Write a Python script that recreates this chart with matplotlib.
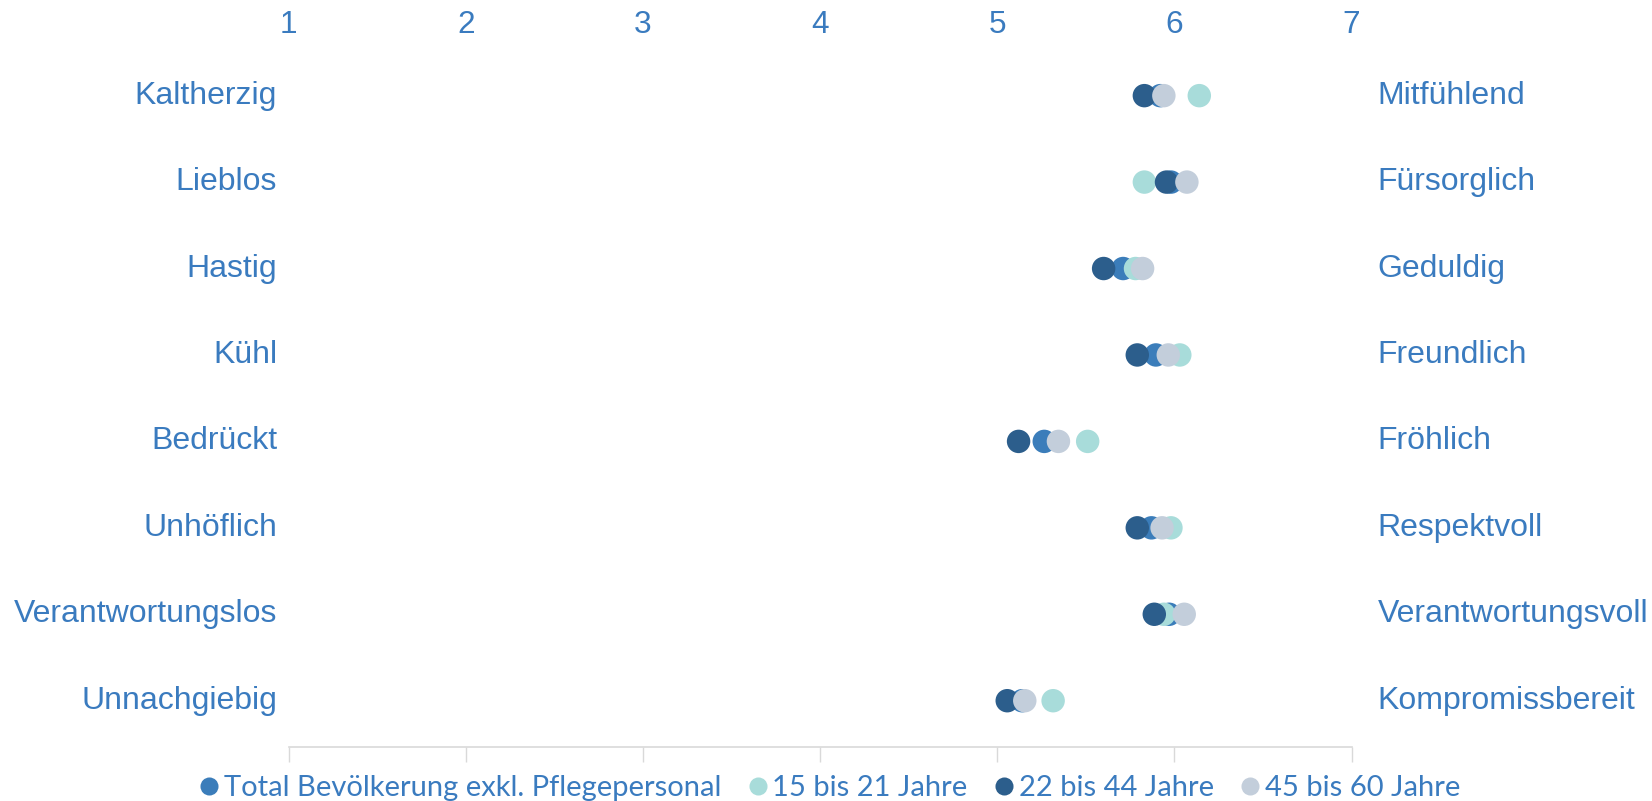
import numpy as np
import matplotlib.pyplot as plt
from matplotlib.lines import Line2D

plt.rcParams['font.family'] = ['Liberation Sans', 'DejaVu Sans']

left_labels = ['Kaltherzig', 'Lieblos', 'Hastig', 'Kühl', 'Bedrückt',
               'Unhöflich', 'Verantwortungslos', 'Unnachgiebig']
right_labels = ['Mitfühlend', 'Fürsorglich', 'Geduldig', 'Freundlich', 'Fröhlich',
                'Respektvoll', 'Verantwortungsvoll', 'Kompromissbereit']

series_names = ['Total Bevölkerung exkl. Pflegepersonal', '15 bis 21 Jahre',
                '22 bis 44 Jahre', '45 bis 60 Jahre']
total = [5.92, 5.98, 5.71, 5.895, 5.265, 5.87, 5.97, 5.14]
age_15_21 = [6.14, 5.83, 5.78, 6.03, 5.51, 5.98, 5.94, 5.315]
age_22_44 = [5.83, 5.955, 5.60, 5.79, 5.12, 5.79, 5.886, 5.056]
age_45_60 = [5.94, 6.07, 5.82, 5.965, 5.345, 5.93, 6.055, 5.155]

colors = ['#3b7dba', '#a8dcda', '#2c5e8c', '#c3cedb']
txt_col = '#3a7bbf'

fig = plt.figure(figsize=(16.52, 8.01), dpi=100)
ax = fig.add_axes([0.1747, 0.0678, 0.8182 - 0.1747, 0.938 - 0.0678])

ypos = np.arange(len(left_labels))
for vals, col in zip([total, age_15_21, age_22_44, age_45_60], colors):
    ax.scatter(vals, ypos, s=285, color=col, edgecolors='none', zorder=3)

ax.set_xlim(1, 7)
ax.set_ylim(7.532, -0.532)
ax.set_xticks(range(1, 8))
ax.set_yticks([])
ax.tick_params(axis='x', top=False, labeltop=True, bottom=True, labelbottom=False,
               direction='out', length=11, width=1, color='#d9d9d9',
               labelsize=22.7, labelcolor=txt_col, pad=-4)
for s in ['top', 'left', 'right']:
    ax.spines[s].set_visible(False)
ax.spines['bottom'].set_color('#d9d9d9')
ax.spines['bottom'].set_linewidth(1.2)

# Beschriftungen links und rechts
for i in range(len(left_labels)):
    ax.text(0.935, i, left_labels[i], ha='right', va='center',
            fontsize=23, color=txt_col)
    ax.text(7.147, i, right_labels[i], ha='left', va='center',
            fontsize=23, color=txt_col)

handles = [Line2D([], [], marker='o', linestyle='none', markersize=13,
                  markerfacecolor=c, markeredgecolor='none') for c in colors]
fig.legend(handles, series_names, loc='center', bbox_to_anchor=(0.5, 1 - 788 / 801),
           ncol=4, frameon=False, handletextpad=-0.1, columnspacing=0.65,
           handlelength=1.2, prop={'family': 'Lato', 'size': 21}, labelcolor=txt_col)

fig.savefig('out.png', dpi=100)
